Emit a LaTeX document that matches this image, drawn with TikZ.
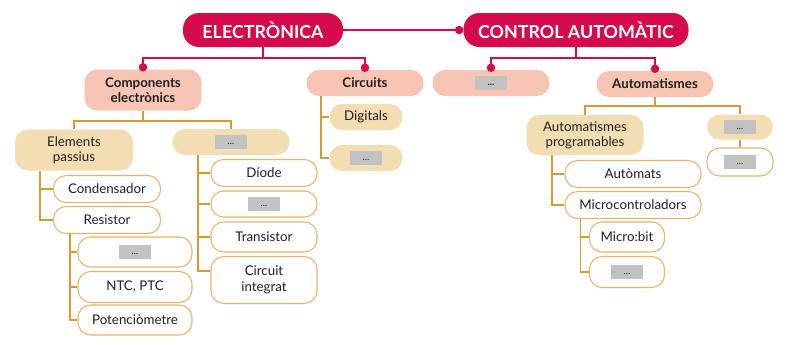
\documentclass[tikz,border=0pt]{standalone}
\usepackage{fontspec}
\setmainfont{Lato}
\usetikzlibrary{calc}
\definecolor{crim}{HTML}{D60B4B}
\definecolor{salmon}{HTML}{F8C4B4}
\definecolor{beige}{HTML}{F2DEB2}
\definecolor{orline}{HTML}{D99A35}
\definecolor{leafb}{HTML}{E8B468}
\definecolor{phgray}{HTML}{C2C2C2}
\definecolor{txt}{HTML}{231F20}
\newcommand\phbox{{\setlength{\fboxsep}{0pt}\colorbox{phgray}{\makebox[24pt][c]{\rule{0pt}{10.5pt}\raisebox{3.4pt}{\fontsize{7}{7}\selectfont\textcolor{txt}{...}}}}}}
\begin{document}
\begin{tikzpicture}[x=0.75pt,y=-0.75pt,
  box/.style={rounded corners=9.5pt, inner sep=0pt, align=center, text=txt, font=\fontsize{10}{11.5}\selectfont},
  title/.style={box, fill=crim, text=white, font=\bfseries\fontsize{13.4}{15}\selectfont, rounded corners=12pt},
  lvla/.style={box, fill=salmon, font=\bfseries\fontsize{10}{11.5}\selectfont},
  lvlb/.style={box, fill=beige},
  leaf/.style={box, draw=leafb, line width=0.8pt, fill=white},
  wh/.style 2 args={minimum width=#1*0.75pt, minimum height=#2*0.75pt},
  redl/.style={draw=crim, line width=1.4pt},
  orl/.style={draw=orline, line width=1.4pt}]
\useasboundingbox (0,0) rectangle (807,344);
\fill[white] (0,0) rectangle (807,344);
% nodes
\node[title, wh={160}{34}] (elec) at (263,30) {ELECTRÒNICA};
\node[title, wh={225}{34}] (ctrl) at (576,30) {CONTROL AUTOMÀTIC};
\node[lvla, wh={117}{41}] (comp) at (143,90) {Components\\electrònics};
\node[lvla, wh={117}{26}] (circ) at (365,83) {Circuits};
\node[lvla, wh={117}{26}] (cdots) at (491,83) {\phbox};
\node[lvla, wh={117}{26}] (autom) at (655,84) {Automatismes};
\node[lvlb, wh={118}{41}] (elpas) at (74,150) {Elements\\passius};
\node[lvlb, wh={117}{26}] (edots) at (231,142) {\phbox};
\node[lvlb, wh={73}{26}] (digit) at (366,117) {Digitals};
\node[lvlb, wh={73}{26}] (circd) at (366,158) {\phbox};
\node[leaf, wh={107}{27}] (cond) at (107,189) {Condensador};
\node[leaf, wh={107}{27}] (res) at (107,220) {Resistor};
\node[leaf, wh={114}{30}] (rdots) at (135,252) {\phbox};
\node[leaf, wh={114}{31}] (ntc) at (135,287) {NTC, PTC};
\node[leaf, wh={114}{30}] (pot) at (135,320) {Potenciòmetre};
\node[leaf, wh={106}{27}] (diode) at (264,173) {Díode};
\node[leaf, wh={106}{26}] (ddots) at (264,204) {\phbox};
\node[leaf, wh={106}{30}] (trans) at (264,237) {Transistor};
\node[leaf, wh={106}{47}] (ci) at (264,280) {Circuit\\integrat};
\node[lvlb, wh={117}{40}] (aprog) at (585,135) {Automatismes\\programables};
\node[lvlb, wh={66}{25}] (adots) at (740,127) {\phbox};
\node[leaf, wh={66}{28}] (adotsb) at (740,162) {\phbox};
\node[leaf, wh={136}{27}] (autm) at (633,174) {Autòmats};
\node[leaf, wh={136}{27}] (micro) at (633,205) {Microcontroladors};
\node[leaf, wh={75}{30}] (mbit) at (627,237) {Micro:bit};
\node[leaf, wh={75}{31}] (mdots) at (627,272) {\phbox};
% red connectors
\draw[redl] (elec.east) -- (ctrl.west);
\fill[crim] ([xshift=-3pt]ctrl.west) circle (3.2pt);
\draw[redl] (elec.south) -- ++(0,11) -| ([yshift=1.5pt]comp.north);
\draw[redl] (elec.south) -- ++(0,11) -| ([yshift=1.5pt]circ.north);
\draw[redl] (ctrl.south) -- ++(0,11) -| ([yshift=1.5pt]cdots.north);
\draw[redl] (ctrl.south) -- ++(0,11) -| ([yshift=1.5pt]autom.north);
\foreach \n in {comp,circ,cdots,autom}
  \fill[crim] ([yshift=1.5pt]\n.north) circle (3.2pt);
% orange connectors
\draw[orl] (comp.south) -- ++(0,10) -| (elpas.north);
\draw[orl] (comp.south) -- ++(0,10) -| (edots.north);
\draw[orl] (autom.south) -- ++(0,9) -| (aprog.north);
\draw[orl] (autom.south) -- ++(0,9) -| (adots.north);
\draw[orl] (adots.south) -- (adotsb.north);
\draw[orl] ($(elpas.south west)+(25,0)$) |- (cond.west);
\draw[orl] ($(elpas.south west)+(25,0)$) |- (res.west);
\draw[orl] ($(res.south west)+(17,0)$) |- (rdots.west);
\draw[orl] ($(res.south west)+(17,0)$) |- (ntc.west);
\draw[orl] ($(res.south west)+(17,0)$) |- (pot.west);
\draw[orl] ($(edots.south west)+(26,0)$) |- (diode.west);
\draw[orl] ($(edots.south west)+(26,0)$) |- (ddots.west);
\draw[orl] ($(edots.south west)+(26,0)$) |- (trans.west);
\draw[orl] ($(edots.south west)+(26,0)$) |- ([yshift=6.75pt]ci.west);
\draw[orl] ($(circ.south west)+(15,0)$) |- (digit.west);
\draw[orl] ($(circ.south west)+(15,0)$) |- (circd.west);
\draw[orl] ($(aprog.south west)+(26,0)$) |- (autm.west);
\draw[orl] ($(aprog.south west)+(26,0)$) |- (micro.west);
\draw[orl] ($(micro.south west)+(16,0)$) |- (mbit.west);
\draw[orl] ($(micro.south west)+(16,0)$) |- (mdots.west);
\end{tikzpicture}
\end{document}
